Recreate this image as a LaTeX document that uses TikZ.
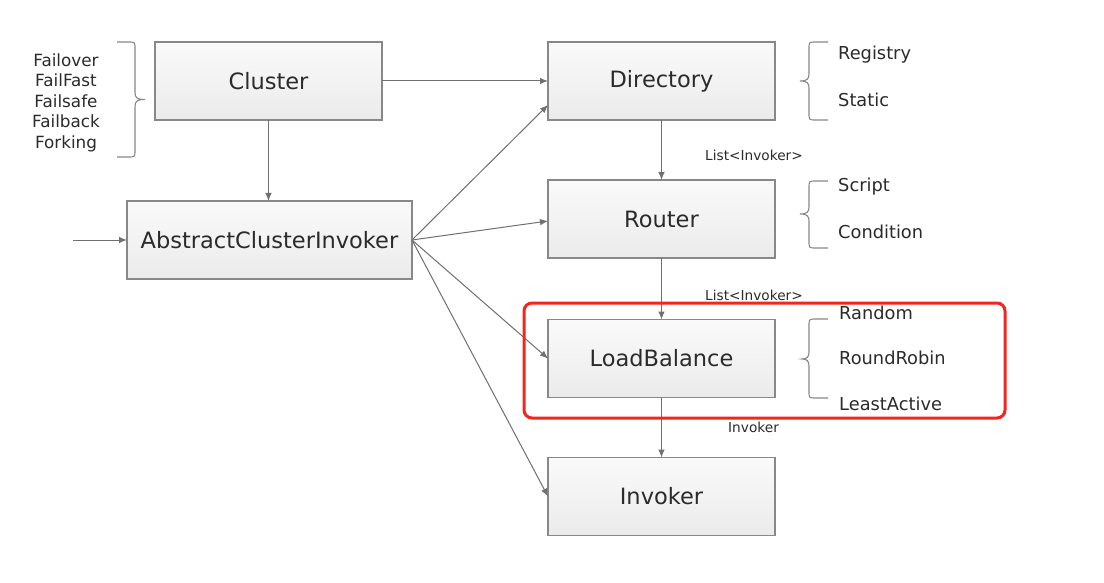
\documentclass[tikz,border=0pt]{standalone}
\usepackage{fontspec}
\setmainfont{DejaVu Sans}
\usetikzlibrary{arrows.meta,shadings}
\definecolor{boxborder}{HTML}{888888}
\definecolor{linecol}{HTML}{707070}
\definecolor{txtcol}{HTML}{2B2B2B}
\definecolor{hired}{HTML}{F2261C}
\definecolor{boxtop}{HTML}{FAFAFA}
\definecolor{boxbot}{HTML}{EBEBEB}
\tikzset{
  box/.style={draw=boxborder, line width=1.4pt, top color=boxtop, bottom color=boxbot,
    minimum width=227pt, minimum height=78pt, inner sep=0pt, outer sep=0pt,
    text=txtcol, font=\fontsize{22.5}{25}\selectfont},
  conn/.style={draw=linecol, line width=1pt, -{Latex[length=8pt,width=6.5pt]}},
  lbl/.style={text=txtcol, font=\fontsize{13.7}{15}\selectfont, anchor=west, inner sep=0pt},
  opt/.style={text=txtcol, font=\fontsize{17.8}{20}\selectfont, anchor=west, inner sep=0pt},
  brc/.style={draw=boxborder, line width=1.1pt},
  hilite/.style={draw=hired, line width=3pt, rounded corners=8pt}
}
\begin{document}
\begin{tikzpicture}[x=1pt,y=-1pt]
\useasboundingbox (0,0) rectangle (1104,583);
\fill[white] (0,0) rectangle (1104,583);

% boxes
\node[box] (cluster) at (268.5,81) {Cluster};
\node[box, minimum width=285pt] (aci) at (269.5,240) {AbstractClusterInvoker};
\node[box] (dir) at (661.5,81) {Directory};
\node[box] (router) at (661.5,219) {Router};
\node[box] (lb) at (661.5,358.5) {LoadBalance};
\node[box] (inv) at (661.5,496.5) {Invoker};

% left option list
\node[text=txtcol, font=\fontsize{16.8}{20.5}\selectfont, align=center, inner sep=0pt] (fail) at (66,102.5)
  {Failover\\FailFast\\Failsafe\\Failback\\Forking};

% right option lists
\node[opt] (reg) at (838,55) {Registry};
\node[opt] (stat) at (838,100) {Static};
\node[opt] (scr) at (838,187) {Script};
\node[opt] (cond) at (838,232) {Condition};
\node[opt] (rand) at (839,313) {Random};
\node[opt] (rr) at (839,358) {RoundRobin};
\node[opt] (la) at (839,404) {LeastActive};

% labels
\node[lbl] (l1) at (705,155) {List<Invoker>};
\node[lbl] (l2) at (705,295) {List<Invoker>};
\node[lbl] (l3) at (728,427) {Invoker};

% braces
\draw[brc] (117,42) -- (128,42) .. controls (135,42) .. (135,49) -- (135,92)
  .. controls (135,98) and (137,99.5) .. (145,99.5) .. controls (137,99.5) and (135,101) .. (135,107)
  -- (135,150) .. controls (135,157) .. (128,157) -- (117,157);
\draw[brc] (828,42) -- (816,42) .. controls (809,42) .. (809,49) -- (809,74)
  .. controls (809,79) and (807,81) .. (800,81) .. controls (807,81) and (809,83) .. (809,88)
  -- (809,113) .. controls (809,120) .. (816,120) -- (828,120);
\draw[brc] (828,181) -- (816,181) .. controls (809,181) .. (809,188) -- (809,207)
  .. controls (809,212) and (807,214) .. (800,214) .. controls (807,214) and (809,216) .. (809,221)
  -- (809,241) .. controls (809,248) .. (816,248) -- (828,248);
\draw[brc] (828,319) -- (816,319) .. controls (809,319) .. (809,326) -- (809,352)
  .. controls (809,357) and (807,359) .. (802,359) .. controls (807,359) and (809,361) .. (809,366)
  -- (809,391) .. controls (809,398) .. (816,398) -- (828,398);

% connectors
\coordinate (in) at (73,240);
\draw[conn] (in) -- (aci.west);
\draw[conn] (cluster.east) -- (dir.west);
\draw[conn] ([xshift=-1pt]aci.north |- cluster.south) -- ([xshift=-1pt]aci.north);
\draw[conn] (aci.east) -- ([yshift=-24pt]dir.west);
\draw[conn] (aci.east) -- ([yshift=-2pt]router.west);
\draw[conn] (aci.east) -- (lb.west);
\draw[conn] (aci.east) -- (inv.west);
\draw[conn] (dir.south) -- (router.north);
\draw[conn] (router.south) -- (lb.north);
\draw[conn] (lb.south) -- (inv.north);

% highlight
\draw[hilite] (524,303) rectangle (1005,418);
\end{tikzpicture}
\end{document}
